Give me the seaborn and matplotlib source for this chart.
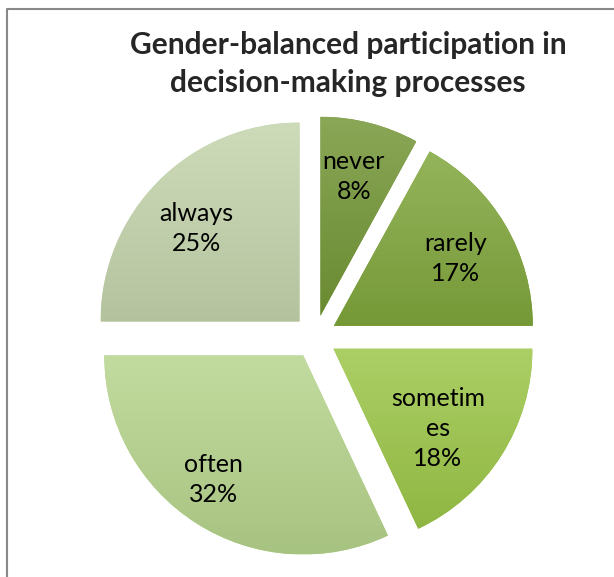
import textwrap
import numpy as np
import matplotlib.pyplot as plt
from matplotlib.colors import to_rgb
from matplotlib.lines import Line2D
import seaborn as sns

# data
categories = ["never", "rarely", "sometimes", "often", "always"]
shares = [8, 17, 18, 32, 25]
colors = ["#739636", "#80a63c", "#9cc648", "#b6d48c", "#c4d4ac"]
title = "Gender-balanced participation in\ndecision-making processes"

# label placement relative to each exploded wedge's apex
label_dist = [0.72, 0.70, 0.66, 0.77, 0.70]
label_turn = [1.0, -1.5, -5.0, -3.5, 3.0]

sns.set_style("white")
plt.rcParams["font.family"] = ["Lato", "DejaVu Sans"]

fig = plt.figure(figsize=(6.14, 5.77), dpi=100)
ax = fig.add_axes([0, 0, 1, 1])

names = iter(categories)


def fmt(pct):
    name = "\n".join(textwrap.wrap(next(names), 7))
    return f"{name}\n{pct:.0f}%"


wedges, _, autotexts = ax.pie(
    shares, colors=colors, startangle=90, counterclock=False,
    explode=[0.11] * len(shares), autopct=fmt, pctdistance=0.7,
    textprops=dict(fontsize=18, color="black", linespacing=1.38),
    wedgeprops=dict(linewidth=0),
)

for w, t, d, turn, c in zip(wedges, autotexts, label_dist, label_turn, colors):
    # soft vertical shading, lighter on top like the bevelled original
    base = np.array(to_rgb(c))
    top = base + (1 - base) * 0.16
    bottom = base * 0.92
    k = np.linspace(0, 1, 64)[:, None]
    grad = (top * (1 - k) + bottom * k)[:, None, :]
    ext = w.get_path().get_extents()
    im = ax.imshow(grad, extent=[ext.x0, ext.x1, ext.y0, ext.y1], origin="upper",
                   aspect="auto", zorder=1.5, interpolation="bilinear")
    im.set_clip_path(w)
    # label position
    mid = np.deg2rad((w.theta1 + w.theta2) / 2 + turn)
    cx, cy = w.center
    t.set_position((cx + d * np.cos(mid), cy + d * np.sin(mid)))

# 1 data unit = 199 px, pie centre at (315, 337) px
ax.set_aspect("equal")
ax.set_xlim(-315 / 199, 299 / 199)
ax.set_ylim(-240 / 199, 337 / 199)
ax.axis("off")

fig.text(348 / 614, 1 - 92 / 577, title, ha="center", va="baseline",
         fontsize=21.5, fontweight="bold", linespacing=1.42)

# grey frame (only left and top edges are visible in the crop)
fig.add_artist(Line2D([6.5 / 614, 6.5 / 614, 1], [0, 1 - 8.5 / 577, 1 - 8.5 / 577],
                      transform=fig.transFigure, color="#888888", linewidth=1.5))

fig.savefig("out.png", dpi=100, facecolor="white")
